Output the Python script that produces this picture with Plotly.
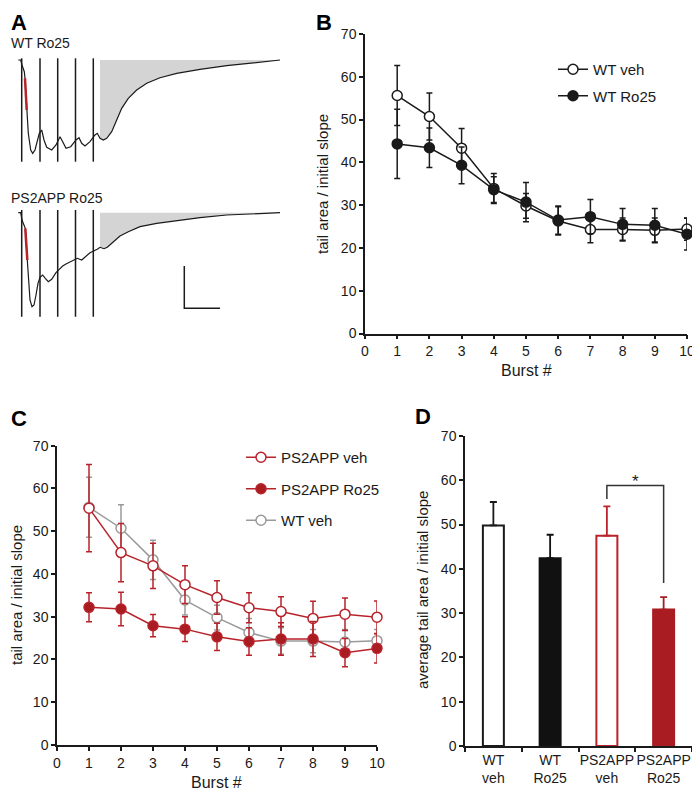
import plotly.graph_objects as go

FONT = "Liberation Sans, Arial, sans-serif"
INK = "#1a1a1a"
RED = "#b8232b"
RED_FILL = "#a81c22"
GRAY = "#9a9a9a"
# page body has an 8px margin, so the figure is drawn 8px in from the window corner
OFF = 8
W, H = 700 - OFF, 794 - OFF

wt_t = [18.3, 20.7, 22, 23.3, 24.3, 25, 26.7, 28.3, 30.7, 32.7, 35, 37.3, 39.3, 41.7,
        44, 46.7, 51.7, 56, 60, 62.7, 66, 70.7, 76, 79, 81.7, 85, 90, 95, 97.3, 100,
        103.3, 106.7, 111.7, 116.7, 121.7, 128.3, 136.7, 146.7, 160, 176.7, 200,
        226.7, 253.3, 280]
wt_v = [0, 0, -5, -10, -11.7, -18.3, -50, -73.3, -90, -93.3, -90, -81.7, -73.3, -70,
        -80, -87.3, -90, -85, -76.7, -81.7, -88.3, -86.7, -80, -77.7, -83.3, -86,
        -81.7, -75, -73.3, -78.3, -80, -78.3, -71.7, -60, -48.3, -38.3, -30, -23.3,
        -17.7, -13.3, -9.3, -5.7, -2.7, 0]
ps_t = [18.3, 20.7, 22, 23.3, 24.7, 25.3, 27.3, 28.7, 30, 32, 34, 36, 38, 40, 42.7,
        45.3, 48.3, 51.7, 56, 59.3, 62.7, 66, 70, 74, 77.3, 81.7, 86, 90, 94, 97.3,
        100, 104, 107.3, 113.3, 120, 128.3, 140, 156.7, 176.7, 200, 226.7, 253.3, 280]
ps_v = [0, 0, -7.3, -10.6, -12.3, -15.6, -47.3, -70.6, -87.3, -94, -92.3, -82.3,
        -70.6, -64.6, -62.3, -65.6, -69, -66.6, -60, -56.6, -53.3, -51.3, -49, -47.3,
        -45.6, -47.3, -44, -40, -38, -36.6, -34.6, -36, -34.6, -29, -23.3, -19, -14,
        -10.6, -8, -5, -2.3, -1.3, 0]
stim_t = [21.7, 40, 57.7, 75.5, 93.3]
wt_stim_v = [1.7, -101.7]
ps_stim_v = [2.7, -104]
slope_idx = [5, 6]          # initial slope segment (red)
tail_from = 100             # tail area integrated from here
scale_t = [184.3, 184.3, 220]
scale_v = [-53.3, -95.6, -95.6]

# ---------------- panel B / C: per-burst ratio (mean, sem)
burst = list(range(1, 11))
wt_veh = [55.6, 50.7, 43.3, 33.9, 29.8, 26.3, 24.3, 24.3, 24.1, 24.4]
wt_veh_sem = [7.0, 5.5, 4.6, 3.5, 2.9, 3.3, 3.1, 2.7, 2.9, 2.6]
wt_ro25 = [44.3, 43.4, 39.3, 33.6, 30.7, 26.5, 27.3, 25.5, 25.3, 23.2]
wt_ro25_sem = [8.1, 4.6, 4.3, 3.0, 4.6, 3.3, 4.0, 3.7, 3.9, 3.7]
ps_veh = [55.4, 45.0, 41.9, 37.5, 34.5, 32.1, 31.2, 29.6, 30.6, 29.9]
ps_veh_sem = [10.2, 6.8, 5.3, 4.4, 3.9, 3.5, 3.5, 4.0, 3.8, 3.8]
ps_ro25 = [32.2, 31.8, 27.9, 27.1, 25.3, 24.2, 24.8, 24.8, 21.6, 22.6]
ps_ro25_sem = [3.4, 3.9, 2.6, 2.9, 3.2, 3.2, 3.8, 4.1, 3.3, 3.4]

# ---------------- panel D: averages
groups = ["WT<br>veh", "WT<br>Ro25", "PS2APP<br>veh", "PS2APP<br>Ro25"]
avg = [49.8, 42.4, 47.5, 30.8]
avg_sem = [5.3, 5.3, 6.6, 2.8]
bar_fill = ["white", "#111111", "white", RED_FILL]
bar_edge = [INK, "#111111", RED, RED_FILL]
sig_groups = [2, 3]
sig_levels = [55.8, 58.8, 36.8]
sig_star_y = 57.2


def dom(a, b):
    return [(a - OFF) / W, (b - OFF) / W]


def ydom(top, bottom):
    return [1 - (bottom - OFF) / H, 1 - (top - OFF) / H]


fig = go.Figure()

# ---- panel A
for xa, ya, t, v, sv in [("x4", "y4", wt_t, wt_v, wt_stim_v), ("x5", "y5", ps_t, ps_v, ps_stim_v)]:
    tail_t = [tt for tt in t if tt >= tail_from]
    tail_v = [vv for tt, vv in zip(t, v) if tt >= tail_from]
    fig.add_trace(go.Scatter(x=[tail_from] + tail_t, y=[0] + tail_v, fill="toself",
                             fillcolor="#d4d4d4", line=dict(width=0), mode="lines",
                             xaxis=xa, yaxis=ya, showlegend=False, hoverinfo="skip"))
    fig.add_trace(go.Scatter(x=t, y=v, mode="lines", line=dict(color=INK, width=1.2),
                             xaxis=xa, yaxis=ya, showlegend=False))
    sx, sy = [], []
    for s in stim_t:
        sx += [s, s, None]
        sy += [sv[0], sv[1], None]
    fig.add_trace(go.Scatter(x=sx, y=sy, mode="lines", line=dict(color=INK, width=1.5),
                             xaxis=xa, yaxis=ya, showlegend=False))
    fig.add_trace(go.Scatter(x=t[slope_idx[0]:slope_idx[1] + 1], y=v[slope_idx[0]:slope_idx[1] + 1],
                             mode="lines", line=dict(color=RED, width=2.5),
                             xaxis=xa, yaxis=ya, showlegend=False))
fig.add_trace(go.Scatter(x=scale_t, y=scale_v, mode="lines", line=dict(color=INK, width=1.5),
                         xaxis="x5", yaxis="y5", showlegend=False))


def series(x, y, sem, color, fill, name, xa, ya, legend, group, rank):
    # error bars first, then the line with markers on top
    fig.add_trace(go.Scatter(x=x, y=y, mode="markers", marker=dict(size=1, color="rgba(0,0,0,0)"),
                             error_y=dict(type="data", array=sem, color=color, thickness=1.5, width=3),
                             xaxis=xa, yaxis=ya, showlegend=False, cliponaxis=False))
    fig.add_trace(go.Scatter(x=x, y=y, mode="lines+markers", name=name,
                             line=dict(color=color, width=1.5),
                             marker=dict(size=10, color=fill, line=dict(color=color, width=1.5)),
                             xaxis=xa, yaxis=ya, legend=legend, legendgroup=group,
                             legendrank=rank, cliponaxis=False))


# ---- panel B
series(burst, wt_veh, wt_veh_sem, INK, "white", "WT veh", "x", "y", "legend", "b1", 1)
series(burst, wt_ro25, wt_ro25_sem, INK, INK, "WT Ro25", "x", "y", "legend", "b2", 2)

# ---- panel C (WT veh in grey behind)
series(burst, wt_veh, wt_veh_sem, GRAY, "white", "WT veh", "x2", "y2", "legend2", "c3", 3)
series(burst, ps_veh, ps_veh_sem, RED, "white", "PS2APP veh", "x2", "y2", "legend2", "c1", 1)
series(burst, ps_ro25, ps_ro25_sem, RED, RED_FILL, "PS2APP Ro25", "x2", "y2", "legend2", "c2", 2)

# ---- panel D
for g, a, e, fc, ec in zip(groups, avg, avg_sem, bar_fill, bar_edge):
    fig.add_trace(go.Bar(x=[g], y=[a], width=0.37, marker=dict(color=fc, line=dict(color=ec, width=2)),
                         error_y=dict(type="data", symmetric=False, array=[e], arrayminus=[0],
                                      color=ec, thickness=1.8, width=3.5),
                         xaxis="x3", yaxis="y3", showlegend=False))
fig.add_trace(go.Scatter(x=[groups[sig_groups[0]], groups[sig_groups[0]], groups[sig_groups[1]], groups[sig_groups[1]]],
                         y=[sig_levels[0], sig_levels[1], sig_levels[1], sig_levels[2]],
                         mode="lines", line=dict(color="#333333", width=1.5),
                         xaxis="x3", yaxis="y3", showlegend=False))

axis_common = dict(showline=True, linecolor=INK, linewidth=1.5, ticks="outside", ticklen=4,
                   tickwidth=1.5, tickcolor=INK, showgrid=False, zeroline=False,
                   tickfont=dict(family=FONT, size=14, color=INK), automargin=False)
hidden = dict(visible=False, showgrid=False, zeroline=False, fixedrange=True)

fig.update_layout(
    width=W, height=H, margin=dict(l=0, r=0, t=0, b=0),
    paper_bgcolor="white", plot_bgcolor="rgba(0,0,0,0)",
    font=dict(family=FONT, color=INK),
    barmode="overlay",
    xaxis=dict(axis_common, domain=dom(365, 687), range=[0, 10], dtick=1, anchor="y"),
    yaxis=dict(axis_common, domain=ydom(33.9, 333.5), range=[0, 70], dtick=10, anchor="x"),
    xaxis2=dict(axis_common, domain=dom(57, 377), range=[0, 10], dtick=1, anchor="y2"),
    yaxis2=dict(axis_common, domain=ydom(445.7, 745), range=[0, 70], dtick=10, anchor="x2"),
    xaxis3=dict(axis_common, domain=dom(465, 692), range=[-0.5, 3.5], type="category",
                tickson="boundaries", tickangle=0, anchor="y3"),
    yaxis3=dict(axis_common, domain=ydom(436, 746), range=[0, 70], dtick=10, anchor="x3"),
    xaxis4=dict(hidden, domain=dom(15, 285), range=[15, 285], anchor="y4"),
    yaxis4=dict(hidden, domain=ydom(55, 165), range=[-105, 5], anchor="x4"),
    xaxis5=dict(hidden, domain=dom(15, 285), range=[15, 285], anchor="y5"),
    yaxis5=dict(hidden, domain=ydom(207.7, 317.7), range=[-105, 5], anchor="x5"),
    legend=dict(x=(553 - OFF) / W, y=1 - (53 - OFF) / H, xanchor="left", yanchor="top",
                bgcolor="rgba(0,0,0,0)", font=dict(family=FONT, size=15, color=INK), tracegroupgap=4),
    legend2=dict(x=(241 - OFF) / W, y=1 - (441 - OFF) / H, xanchor="left", yanchor="top",
                 bgcolor="rgba(0,0,0,0)", font=dict(family=FONT, size=15, color=INK), tracegroupgap=9),
)


def note(text, x, y, size=15, angle=0, xanchor="center", bold=False, yanchor="middle"):
    fig.add_annotation(text=f"<b>{text}</b>" if bold else text, x=(x - OFF) / W, y=1 - (y - OFF) / H,
                       xref="paper", yref="paper", showarrow=False, textangle=angle,
                       xanchor=xanchor, yanchor=yanchor,
                       font=dict(family=FONT, size=size, color="black" if bold else INK))


note("A", 9, 8, 22, xanchor="left", bold=True, yanchor="top")
note("B", 314, 8, 22, xanchor="left", bold=True, yanchor="top")
note("C", 9, 418, 22, xanchor="left", bold=True)
note("D", 413, 417, 22, xanchor="left", bold=True)
note("WT Ro25", 9, 43, 14, xanchor="left")
note("PS2APP Ro25", 9, 198, 14, xanchor="left")
note("tail area / initial slope", 322, 184, 15, angle=-90)
note("Burst #", 526, 370, 16)
note("tail area / initial slope", 16, 595, 15, angle=-90)
note("Burst #", 217, 782, 16)
note("average tail area / initial slope", 422, 590, 15, angle=-90)
fig.add_annotation(text="*", x=(sig_groups[0] + sig_groups[1]) / 2, y=sig_star_y, xref="x3", yref="y3",
                   showarrow=False, yanchor="bottom", font=dict(family=FONT, size=17, color=INK))

fig.write_html("out.html")
